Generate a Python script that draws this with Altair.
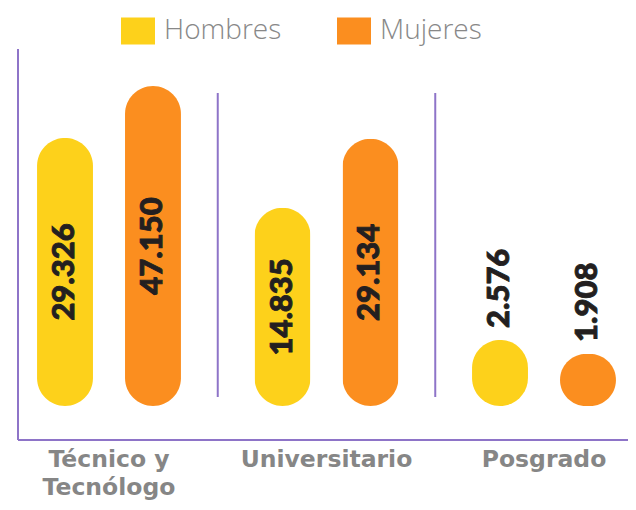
import altair as alt
import pandas as pd

categories = ["Técnico y\nTecnólogo", "Universitario", "Posgrado"]
genders = ["Hombres", "Mujeres"]
hombres = [29326, 14835, 2576]
mujeres = [47150, 29134, 1908]
colors = ["#FDD11B", "#FB8E1F"]

rows = []
for i, c in enumerate(categories):
    for g, vals in zip(genders, [hombres, mujeres]):
        v = vals[i]
        rows.append({"cat": c, "idx": i, "gender": g, "value": v,
                     "label": f"{v:,}".replace(",", ".")})
df = pd.DataFrame(rows)

C = 3500
W, H = 610, 391
PURPLE = "#8E74C8"

xenc = alt.X("cat:N", sort=categories,
             scale=alt.Scale(range=[-17.75, 634.75], paddingInner=0, paddingOuter=0),
             axis=alt.Axis(title=None, domain=False, ticks=False, labelAngle=0,
                           labelFont="DejaVu Sans", labelFontWeight="bold", labelFontSize=23.5,
                           labelColor="#868686", labelPadding=7, labelLineHeight=28,
                           labelBaseline="top",
                           labelExpr="split(datum.label, '\\n')"))
xoff = alt.XOffset("gender:N", sort=genders,
                   scale=alt.Scale(paddingInner=0.364, paddingOuter=0.418))
yscale = alt.Scale(type="symlog", constant=C, domain=[0, 47150], range=[357, 37])

base = alt.Chart(df)

bars = base.mark_bar(cornerRadius=28).encode(
    x=xenc, xOffset=xoff,
    y=alt.Y("value:Q", scale=yscale, axis=None),
    y2=alt.value(357),
    color=alt.Color("gender:N", sort=genders,
                    scale=alt.Scale(domain=genders, range=colors),
                    legend=alt.Legend(title=None, orient="none", direction="horizontal",
                                      legendX=103, legendY=-35,
                                      symbolType="M-1,-0.8H1V0.8H-1Z", symbolSize=1156,
                                      symbolStrokeWidth=0, symbolOpacity=1,
                                      labelFont="Open Sans", labelFontWeight=300,
                                      labelFontSize=28, labelColor="#888888",
                                      labelOffset=9, columnPadding=55,
                                      labelLimit=300)),
)

txt_style = dict(angle=270, baseline="middle", font="Lato", fontWeight=900,
                 fontSize=31, color="#231F20", stroke="#231F20", strokeWidth=0.9)

inside = base.transform_filter("datum.value > 10000").transform_calculate(
    mid=f"{C}*(sqrt(1+datum.value/{C})-1)"
).mark_text(align="center", **txt_style).encode(
    x=xenc, xOffset=xoff,
    y=alt.Y("mid:Q", scale=yscale, axis=None),
    text="label:N",
)

outside = base.transform_filter("datum.value <= 10000").mark_text(
    align="left", dx=12, **txt_style).encode(
    x=xenc, xOffset=xoff,
    y=alt.Y("value:Q", scale=yscale, axis=None),
    text="label:N",
)

seps = base.transform_filter("datum.idx < 2 && datum.gender == 'Hombres'").mark_rule(
    color=PURPLE, strokeWidth=2).encode(
    x=alt.X("cat:N", sort=categories, bandPosition=1),
    y=alt.value(44), y2=alt.value(348),
)

yline = base.mark_rule(color=PURPLE, strokeWidth=2).encode(
    x=alt.value(0), y=alt.value(0), y2=alt.value(H))
xline = base.mark_rule(color=PURPLE, strokeWidth=2).encode(
    x=alt.value(0), x2=alt.value(W), y=alt.value(H))

chart = alt.layer(bars, inside, outside, seps, yline, xline).properties(
    width=W, height=H,
    autosize=alt.AutoSizeParams(type="none"),
    padding={"left": 10, "top": 41, "right": 0, "bottom": 62},
).configure_view(stroke=None)

chart.save("out.html", embed_options={"renderer": "svg", "actions": False})
